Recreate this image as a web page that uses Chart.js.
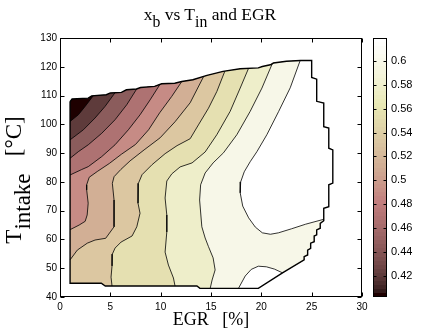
<!DOCTYPE html>
<html>
<head>
<meta charset="utf-8">
<script src="https://cdn.jsdelivr.net/npm/chart.js@4/dist/chart.umd.min.js"></script>
<style>
  body { margin: 0; background: #fff; }
  #wrap { position: relative; width: 424px; height: 335px; font-family: 'Liberation Serif', 'Times New Roman', serif; color: #000; }
  canvas { position: absolute; top: 0; }
  #main { left: 0; }
  #cbar { left: 364px; }
  .lbl { position: absolute; white-space: pre; text-align: center; line-height: 20px; height: 20px; }
  .lbl sub { font-size: 0.9em; vertical-align: -0.42em; line-height: 0; }
  #title { left: -2px; width: 424px; top: 4px; font-size: 17.5px; }
  #xlab { left: -1px; width: 424px; top: 309px; font-size: 18px; }
  #ylab { left: -86px; top: 170px; width: 200px; font-size: 23px; transform: rotate(-90deg); }
  #ylab sub { font-size: 1em; vertical-align: -0.38em; }
</style>
</head>
<body>
<div id="wrap">
  <canvas id="main" width="424" height="335"></canvas>
  <canvas id="cbar" width="60" height="335"></canvas>
  <div id="title" class="lbl">x<sub>b</sub> vs T<sub>in</sub> and EGR</div>
  <div id="xlab" class="lbl">EGR   [%]</div>
  <div id="ylab" class="lbl">T<sub>intake</sub>   [°C]</div>
</div>
<script>
// axis ticks
const xTicks = [0, 5, 10, 15, 20, 25, 30];
const yTicks = [40, 50, 60, 70, 80, 90, 100, 110, 120, 130];
const cbTicks = [0.42, 0.44, 0.46, 0.48, 0.5, 0.52, 0.54, 0.56, 0.58, 0.6];
const cbLimits = [0.4025, 0.619];
const levels = [0.42, 0.44, 0.46, 0.48, 0.5, 0.52, 0.54, 0.56, 0.58, 0.6];

// measured operating region [EGR %, T intake °C], clockwise from top-left
const domainEdge = [
  [1, 107.9], [1.2, 108.8], [2.8, 109.1], [3.15, 109.9], [4.6, 110.3], [5.0, 110.9],
  [6.1, 111.1], [6.6, 112.0], [7.6, 112.3], [8.0, 112.8], [9.4, 113.2], [10.1, 114.1],
  [11.4, 114.3], [12.1, 114.9], [13.2, 115.5], [14.6, 117.0], [16.2, 118.4], [17.9, 119.3],
  [19.7, 119.6], [20.1, 120.1], [20.9, 120.7], [21.2, 121.3], [22.5, 121.9], [23.9, 122.2],
  [25.0, 122.2], [25.0, 116.3], [25.5, 115.7], [25.5, 108.0], [26.2, 107.4], [26.2, 99.2],
  [26.7, 98.7], [26.7, 91.7], [27.1, 91.1], [27.1, 79.6], [26.7, 79.0], [26.7, 71.4],
  [26.2, 70.8], [26.2, 66.5], [25.85, 65.6], [25.85, 63.9], [25.5, 63.3], [25.5, 61.6],
  [25.25, 61.2], [25.25, 59.2], [24.9, 58.7], [24.9, 56.9], [24.6, 56.3], [24.6, 54.6],
  [24.25, 54.0], [24.25, 52.9], [22.1, 48.4], [19.7, 43.0], [13.9, 43.0], [13.6, 43.8],
  [4.5, 43.8], [4.1, 44.8], [1, 44.8]
];

// contour lines of x_b, high side on the left of the direction of travel
const c042 = [[3.31, 109.9], [2.49, 106.2], [1.82, 103.3], [1, 101.0]];
const c044 = [[5.47, 110.9], [4.47, 106.2], [3.48, 102.2], [2.32, 98.1], [1, 94.6]];
const c046 = [[7.63, 112.3], [6.63, 106.8], [5.47, 101.6], [4.15, 96.9], [2.81, 92.9], [1.82, 90.5], [1, 88.2]];
const c048 = [[9.94, 113.8], [8.95, 108.5], [7.95, 103.3], [6.79, 98.1], [5.47, 92.9], [4.15, 88.8],
  [2.81, 85.3], [2.16, 84.3], [1, 82.4]];
const c050 = [[12.1, 114.9], [11.1, 109.7], [9.9, 104.0], [8.8, 98.1], [7.5, 93.0], [6.1, 89.6],
  [4.9, 86.4], [3.7, 83.6], [2.9, 81.6], [2.65, 79.0], [2.65, 77.2], [2.8, 72.6], [2.7, 68.5],
  [2.5, 66.3], [1.9, 65.0], [1, 63.4]];
const c052 = [[14.25, 116.9], [12.93, 107.5], [11.43, 100.9], [9.94, 95.3], [8.35, 91.1], [6.96, 87.3],
  [6.04, 84.3], [5.37, 81.8], [5.2, 79.5], [5.37, 73.7], [5.37, 64.4], [4.54, 60.4], [3.48, 59.8],
  [2.71, 58.7], [1.72, 56.3], [1, 52.9]];
const c054 = [[16.41, 117.8], [15.58, 111.4], [14.75, 105.6], [13.75, 99.8], [12.93, 95.0], [11.63, 92.6],
  [10.44, 89.8], [9.15, 86.0], [8.15, 82.5], [7.79, 79.5], [7.75, 72.6], [7.95, 69.1], [7.63, 64.4],
  [7.16, 61.2], [6.07, 59.1], [5.47, 57.0], [5.2, 54.9], [5.17, 50.8], [5.07, 46.9], [5.17, 43.8]];
const c056 = [[18.72, 120.0], [17.9, 112.6], [16.9, 104.5], [15.58, 96.4], [14.42, 90.4], [13.12, 86.6],
  [11.93, 85.2], [11.11, 82.8], [10.61, 80.3], [10.44, 74.4], [10.61, 68.5], [10.61, 62.6],
  [10.44, 55.6], [10.77, 51.1], [11.27, 46.6], [11.43, 43.6]];
const c058 = [[21.05, 121.3], [20.06, 112.6], [18.89, 104.5], [17.57, 96.4], [16.24, 90.1], [15.21, 86.6],
  [14.42, 83.1], [13.97, 79.0], [13.87, 73.7], [14.09, 64.4], [14.42, 60.5], [14.75, 57.5],
  [15.21, 53.6], [15.41, 49.4], [15.11, 45.9], [14.92, 43.0]];
const c060a = [[23.86, 122.2], [22.87, 112.7], [21.71, 104.4], [20.55, 96.4], [19.56, 90.5], [18.89, 87.0],
  [18.3, 83.5], [17.95, 80.0], [17.9, 76.2], [18.15, 71.6], [18.74, 67.5], [19.4, 64.3], [20.1, 62.3],
  [20.9, 61.8], [21.7, 62.3], [23.0, 63.7], [24.4, 65.3], [26.05, 67.0]];
const c060b = [[22.1, 48.4], [21.3, 49.7], [20.5, 50.5], [19.7, 50.7], [19.0, 49.6], [18.4, 47.3], [17.73, 43.0]];

const contours = [[c042], [c044], [c046], [c048], [c050], [c052], [c054], [c056], [c058], [c060a, c060b]];
const bandColors = ['#1e0000', '#5e3b3b', '#8b5c5c', '#ae7272', '#c68b85', '#d2af95',
  '#dcc7a1', '#e5e0b1', '#eeeeca', '#f7f7e8', '#ffffff'];

Chart.defaults.font.family = "'Liberation Sans', Arial, sans-serif";
Chart.defaults.color = '#000';

// nearest point on the region edge (rough px scale for the search only)
function nearestEdge(p) {
  const sx = 10, sy = 2.87, n = domainEdge.length;
  let best = null;
  for (let i = 0; i < n; i++) {
    const a = domainEdge[i], b = domainEdge[(i + 1) % n];
    const dx = (b[0] - a[0]) * sx, dy = (b[1] - a[1]) * sy;
    const len = dx * dx + dy * dy;
    let t = len ? (((p[0] - a[0]) * sx) * dx + ((p[1] - a[1]) * sy) * dy) / len : 0;
    t = Math.max(0, Math.min(1, t));
    const q = [a[0] + t * (b[0] - a[0]), a[1] + t * (b[1] - a[1])];
    const d = ((p[0] - q[0]) * sx) ** 2 + ((p[1] - q[1]) * sy) ** 2;
    if (!best || d < best.d) best = { i, t, d, q };
  }
  return best;
}

function snapLine(line) {
  const s = nearestEdge(line[0]), e = nearestEdge(line[line.length - 1]);
  return { pts: [s.q, ...line.slice(1, -1), e.q], s, e };
}

// region where x_b is above the contour level
function regionAbove(line) {
  const { pts, s, e } = snapLine(line);
  const n = domainEdge.length, ring = pts.slice();
  let i = e.i;
  if (e.i !== s.i || e.t < s.t) {
    do { ring.push(domainEdge[i]); i = (i - 1 + n) % n; } while (i !== s.i);
  }
  ring.push(ring[0]);
  return ring;
}

const toXY = pts => pts.map(p => ({ x: p[0], y: p[1] }));

function areaSet(pts, color, order) {
  return { data: toXY(pts), showLine: true, fill: 'shape', backgroundColor: color,
    borderWidth: 0, borderColor: 'rgba(0,0,0,0)', pointRadius: 0, order };
}
function lineSet(pts, width, order) {
  return { data: toXY(pts), showLine: true, fill: false, borderColor: '#000',
    borderWidth: width, pointRadius: 0, order };
}

const datasets = [];
const domainRing = domainEdge.concat([domainEdge[0]]);
datasets.push(areaSet(domainRing, bandColors[0], 100));
contours.forEach((segs, k) => segs.forEach(seg => datasets.push(areaSet(regionAbove(seg), bandColors[k + 1], 99 - k))));
contours.forEach(segs => segs.forEach(seg => datasets.push(lineSet(snapLine(seg).pts, 0.8, 2))));
datasets.push(lineSet(domainRing, 1.4, 1));

// MATLAB-like box with inward ticks
const axesBox = {
  id: 'axesBox',
  afterDraw(chart, args, opts) {
    const { ctx, chartArea: a, scales } = chart;
    const L = Math.round(a.left) + 0.5, R = Math.round(a.right) - 0.5;
    const T = Math.round(a.top) + 0.5, B = Math.round(a.bottom) - 0.5;
    const len = opts.len || 4;
    ctx.save();
    ctx.strokeStyle = '#000';
    ctx.lineWidth = 1;
    ctx.strokeRect(L, T, R - L, B - T);
    ctx.beginPath();
    if (opts.xTicks !== false) {
      scales.x.ticks.forEach(t => {
        const px = Math.round(scales.x.getPixelForValue(t.value)) + 0.5;
        ctx.moveTo(px, B); ctx.lineTo(px, B - len);
        ctx.moveTo(px, T); ctx.lineTo(px, T + len);
      });
    }
    scales.y.ticks.forEach(t => {
      const py = Math.round(scales.y.getPixelForValue(t.value)) + 0.5;
      ctx.moveTo(L, py); ctx.lineTo(L + len, py);
      ctx.moveTo(R, py); ctx.lineTo(R - len, py);
    });
    ctx.stroke();
    ctx.restore();
  }
};

new Chart(document.getElementById('main'), {
  type: 'scatter',
  data: { datasets },
  options: {
    responsive: false,
    animation: false,
    layout: { padding: { left: 0, top: 38, right: 62, bottom: 0 } },
    plugins: { legend: { display: false }, tooltip: { enabled: false }, axesBox: { len: 4 } },
    scales: {
      x: {
        type: 'linear', min: 0, max: 30,
        grid: { display: false, drawTicks: false }, border: { display: false },
        afterBuildTicks: s => { s.ticks = xTicks.map(v => ({ value: v })); },
        afterFit: s => { s.height = 38; },
        ticks: { padding: 4, font: { size: 10 }, maxRotation: 0 }
      },
      y: {
        type: 'linear', min: 40, max: 130,
        grid: { display: false, drawTicks: false }, border: { display: false },
        afterBuildTicks: s => { s.ticks = yTicks.map(v => ({ value: v })); },
        afterFit: s => { s.width = 60; },
        ticks: { padding: 3, font: { size: 10 } }
      }
    }
  },
  plugins: [axesBox]
});

// MATLAB "pink" colormap, 64 entries
function pinkMap(i) {
  const m = 64, n = 24, g = i / (m - 1);
  const hr = i < n ? (i + 1) / n : 1;
  const hg = i < n ? 0 : (i < 2 * n ? (i + 1 - n) / n : 1);
  const hb = i < 2 * n ? 0 : (i + 1 - 2 * n) / (m - 2 * n);
  const c = h => Math.round(255 * Math.sqrt((2 * g + h) / 3));
  return 'rgb(' + c(hr) + ',' + c(hg) + ',' + c(hb) + ')';
}

new Chart(document.getElementById('cbar'), {
  type: 'bar',
  data: {
    labels: [''],
    datasets: [{
      data: [cbLimits],
      borderWidth: 0,
      barPercentage: 1,
      categoryPercentage: 1,
      backgroundColor: c => {
        const a = c.chart.chartArea;
        if (!a) return '#000';
        const gr = c.chart.ctx.createLinearGradient(0, a.bottom, 0, a.top);
        for (let i = 0; i < 64; i++) {
          gr.addColorStop(i / 64, pinkMap(i));
          gr.addColorStop((i + 1) / 64, pinkMap(i));
        }
        return gr;
      }
    }]
  },
  options: {
    responsive: false,
    animation: false,
    layout: { padding: { left: 9, top: 38, right: 0, bottom: 38 } },
    plugins: { legend: { display: false }, tooltip: { enabled: false }, axesBox: { xTicks: false, len: 3 } },
    scales: {
      x: { display: false },
      y: {
        position: 'right', min: cbLimits[0], max: cbLimits[1],
        grid: { display: false, drawTicks: false }, border: { display: false },
        afterBuildTicks: s => { s.ticks = cbTicks.map(v => ({ value: v })); },
        afterFit: s => { s.width = 37; },
        ticks: { padding: 4, font: { size: 11 }, callback: v => String(+v.toFixed(2)) }
      }
    }
  },
  plugins: [axesBox]
});
</script>
</body>
</html>
